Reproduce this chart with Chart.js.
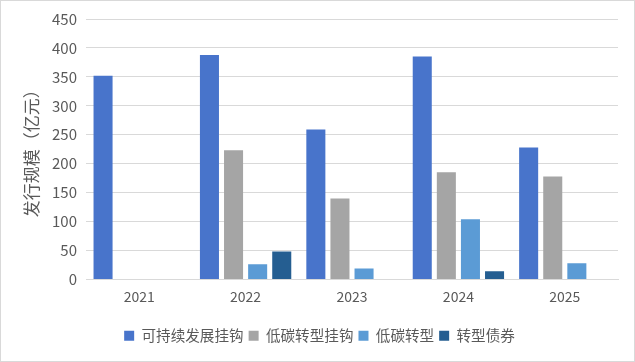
<!DOCTYPE html>
<html><head><meta charset="utf-8">
<script src="https://cdn.jsdelivr.net/npm/chart.js@4"></script>
<style>
html,body{margin:0;padding:0;background:#fff;}
#wrap{position:absolute;left:0;top:0;width:633px;height:360px;border:1px solid #d9d9d9;}
canvas{display:block;}
</style></head>
<body><div id="wrap"><canvas id="c" width="633" height="360"></canvas></div>
<script>
const categories = ['2021','2022','2023','2024','2025'];
const seriesNames = ['可持续发展挂钩','低碳转型挂钩','低碳转型','转型债券'];
const sustainLinked = [352, 388, 259, 385, 228];
const lowCarbonLinked = [null, 223, 140, 185, 178];
const lowCarbon = [null, 26, 19, 104, 28];
const transition = [null, 48, null, 14, null];
const yTicks = [0,50,100,150,200,250,300,350,400,450];
const colors = ['#4874CB','#A5A5A5','#5B9BD5','#255E91'];

const font = "'Noto Sans CJK SC','Noto Sans',sans-serif";
const values = [sustainLinked, lowCarbonLinked, lowCarbon, transition];
new Chart(document.getElementById('c'), {
  type: 'bar',
  data: {
    labels: categories,
    datasets: values.map((v,i)=>({label: seriesNames[i], data: v, backgroundColor: colors[i], categoryPercentage: 0.906, barPercentage: 0.79}))
  },
  options: {
    responsive: false, animation: false,
    layout: {padding: {left: 20, right: 16, top: 12, bottom: 8}},
    plugins: {
      tooltip: {enabled:false},
      legend: {position:'bottom', labels: {boxWidth: 10, boxHeight: 10, padding: 5, color:'#595959', font:{family: font, size: 14.6}}}
    },
    scales: {
      x: {
        grid: {display:false, drawTicks:false},
        border: {color:'#d9d9d9'},
        ticks: {color:'#595959', font:{family: font, size: 14}, padding: 9},
        afterFit: s => { s.height = 44; }
      },
      y: {
        min: 0, max: 450,
        afterBuildTicks: s => { s.ticks = yTicks.map(v=>({value:v})); },
        grid: {color:'#d9d9d9', drawTicks:false},
        border: {display:false},
        ticks: {color:'#595959', font:{family: font, size: 15}, padding: 9},
        title: {display:true, text:'发行规模（亿元）', color:'#595959', font:{family: font, size: 17}, padding: {top:0,bottom:4}},
        afterFit: s => { s.width = 65; }
      }
    }
  }
});
</script></body></html>
